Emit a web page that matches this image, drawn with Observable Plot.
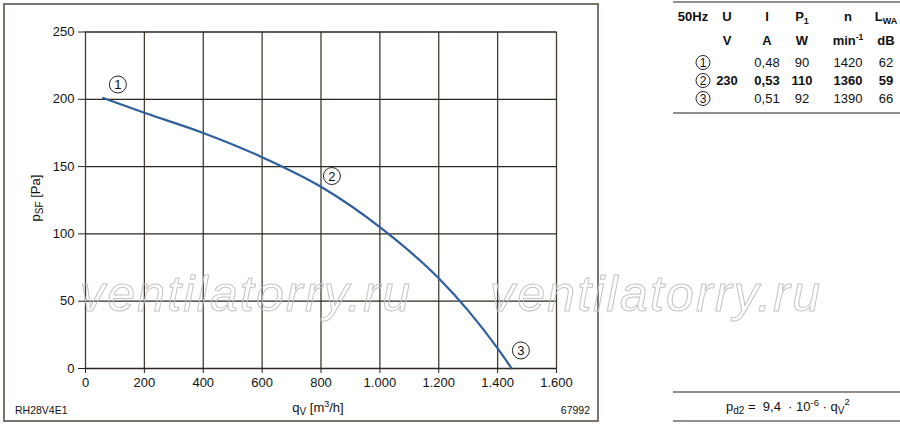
<!DOCTYPE html>
<html>
<head>
<meta charset="utf-8">
<script src="https://cdn.jsdelivr.net/npm/d3@7"></script>
<script src="https://cdn.jsdelivr.net/npm/@observablehq/plot@0.6"></script>
<style>
  body { margin: 0; background: #fff; }
  #wrap { position: relative; width: 900px; height: 426px; font-family: "Liberation Sans", Arial, sans-serif; }
  #wrap > * { position: absolute; left: 0; top: 0; }
  #frame { left: 3px; top: 3px; width: 592px; height: 415px; border: 2px solid #7b756d; }
</style>
</head>
<body>
<div id="wrap">
  <div id="frame"></div>
</div>
<script>
// ---- data ----
const qv  = [60, 200, 400, 600, 800, 1000, 1200, 1300, 1400, 1448];
const psf = [201, 190, 175, 157, 135, 105, 67, 43, 15, 0];
const xTicks = [0, 200, 400, 600, 800, 1000, 1200, 1400, 1600];
const xTickLabels = ["0", "200", "400", "600", "800", "1.000", "1.200", "1.400", "1.600"];
const yTicks = [0, 50, 100, 150, 200, 250];
const markerIds = ["1", "2", "3"];
const markerQ = [110, 837, 1479];
const markerP = [211, 143, 13.4];

const tableHeader = ["50Hz", "U", "I", "P", "n", "L"];
const tableUnits = ["", "V", "A", "W", "min", "dB"];
const tableRows = [
  ["1", "", "0,48", "90", "1420", "62"],
  ["2", "230", "0,53", "110", "1360", "59"],
  ["3", "", "0,51", "92", "1390", "66"]
];
const boldRow = 1;

const curve = qv.map((q, i) => ({q, p: psf[i]}));
const markers = markerIds.map((id, i) => ({id, q: markerQ[i], p: markerP[i]}));

const gridColor = "#2e271d";
const chart = Plot.plot({
  width: 600,
  height: 426,
  marginLeft: 85,
  marginRight: 44,
  marginTop: 31.5,
  marginBottom: 58,
  style: {fontFamily: "Liberation Sans, Arial, sans-serif", fontSize: "13px", background: "transparent", color: "#111"},
  x: {domain: [0, 1600]},
  y: {domain: [0, 250]},
  marks: [
    Plot.gridX(xTicks, {stroke: gridColor, strokeOpacity: 0.9, strokeWidth: 1.3}),
    Plot.gridY(yTicks, {stroke: gridColor, strokeOpacity: 1, strokeWidth: 1.3}),
    Plot.axisX(xTicks, {tickFormat: d => xTickLabels[xTicks.indexOf(d)], tickSize: 5, tickPadding: 4, fontSize: 13, label: null, stroke: "#222"}),
    Plot.axisY(yTicks, {tickSize: 7, tickPadding: 4, fontSize: 13, label: null, stroke: "#222"}),
    Plot.line(curve, {x: "q", y: "p", stroke: "#2f5e9d", strokeWidth: 2.2, curve: "monotone-x"}),
    Plot.dot(markers, {x: "q", y: "p", r: 8.5, stroke: "#222", fill: "white", strokeWidth: 1}),
    Plot.text(markers, {x: "q", y: "p", text: "id", fontSize: 13, fill: "#111", dy: 0.5})
  ]
});
document.getElementById("wrap").appendChild(chart);

// ---- overlay texts ----
const ov = d3.select("#wrap").append("svg")
  .attr("width", 900).attr("height", 426)
  .style("font-family", "Liberation Sans, Arial, sans-serif")
  .style("pointer-events", "none");

// y label
const yl = ov.append("text").attr("transform", "translate(40,198) rotate(-90)")
  .attr("text-anchor", "middle").attr("font-size", 13).attr("fill", "#111");
yl.append("tspan").text("p");
yl.append("tspan").attr("font-size", 10).attr("dy", 3).text("SF");
yl.append("tspan").attr("dy", -3).text(" [Pa]");

// x label
const xl = ov.append("text").attr("x", 318).attr("y", 412)
  .attr("text-anchor", "middle").attr("font-size", 13).attr("fill", "#111");
xl.append("tspan").text("q");
xl.append("tspan").attr("font-size", 10).attr("dy", 3).text("V");
xl.append("tspan").attr("dy", -3).text(" [m");
xl.append("tspan").attr("font-size", 9).attr("dy", -5).text("3");
xl.append("tspan").attr("dy", 5).text("/h]");

ov.append("text").attr("x", 15).attr("y", 414).attr("font-size", 10.5).attr("fill", "#111").text("RH28V4E1");
ov.append("text").attr("x", 590).attr("y", 414).attr("text-anchor", "end").attr("font-size", 10.5).attr("fill", "#111").text("67992");

// ---- table ----
const colX = [693, 727, 767, 802, 848, 886];
const lineCol = "#6f6a64";
ov.append("line").attr("x1", 673).attr("x2", 900).attr("y1", 2).attr("y2", 2).attr("stroke", lineCol).attr("stroke-width", 1.5);
ov.append("line").attr("x1", 673).attr("x2", 900).attr("y1", 113).attr("y2", 113).attr("stroke", lineCol).attr("stroke-width", 1.5);

tableHeader.forEach((h, i) => {
  const t = ov.append("text").attr("x", colX[i]).attr("y", 21).attr("text-anchor", "middle")
    .attr("font-size", 13).attr("font-weight", "bold").attr("fill", "#111");
  t.append("tspan").text(h);
  if (h === "P") t.append("tspan").attr("font-size", 9).attr("dy", 3).text("1");
  if (h === "L") t.append("tspan").attr("font-size", 9).attr("dy", 3).text("WA");
});
tableUnits.forEach((u, i) => {
  if (!u) return;
  const t = ov.append("text").attr("x", colX[i]).attr("y", 45).attr("text-anchor", "middle")
    .attr("font-size", 13).attr("font-weight", "bold").attr("fill", "#111");
  t.append("tspan").text(u);
  if (u === "min") t.append("tspan").attr("font-size", 8.5).attr("dy", -5).text("-1");
});
tableRows.forEach((row, r) => {
  const y = 67 + r * 18;
  row.forEach((v, i) => {
    if (!v) return;
    if (i === 0) {
      ov.append("circle").attr("cx", 703).attr("cy", y - 4.5).attr("r", 7)
        .attr("fill", "none").attr("stroke", "#222").attr("stroke-width", 1);
      ov.append("text").attr("x", 703).attr("y", y).attr("text-anchor", "middle")
        .attr("font-size", 12).attr("fill", "#111").text(v);
      return;
    }
    ov.append("text").attr("x", colX[i]).attr("y", y).attr("text-anchor", "middle")
      .attr("font-size", 13).attr("font-weight", r === boldRow ? "bold" : "normal").attr("fill", "#111").text(v);
  });
});

// ---- formula ----
ov.append("line").attr("x1", 673).attr("x2", 900).attr("y1", 392).attr("y2", 392).attr("stroke", lineCol).attr("stroke-width", 1.5);
ov.append("line").attr("x1", 673).attr("x2", 900).attr("y1", 421).attr("y2", 421).attr("stroke", lineCol).attr("stroke-width", 1.5);
const f = ov.append("text").attr("x", 726).attr("y", 411).attr("font-size", 13).attr("fill", "#111");
f.append("tspan").text("p");
f.append("tspan").attr("font-size", 10).attr("dy", 3).text("d2");
f.append("tspan").attr("dy", -3).text("\u00a0=\u00a0\u00a09,4\u00a0\u00a0\u00b7\u00a010");
f.append("tspan").attr("font-size", 9.5).attr("dy", -5).text("-6");
f.append("tspan").attr("dy", 5).text("\u00a0\u00b7\u00a0q");
f.append("tspan").attr("font-size", 10).attr("dy", 3).text("V");
f.append("tspan").attr("font-size", 9.5).attr("dy", -9).text("2");

// ---- watermark ----
[80, 490].forEach(x0 => {
  ov.append("text").attr("x", x0).attr("y", 311).attr("font-size", 50).attr("font-style", "italic")
    .attr("textLength", 330).attr("lengthAdjust", "spacing")
    .attr("fill", "none").attr("stroke", "#c4c4c4").attr("stroke-width", 1).text("ventilatorry.ru");
});
</script>
</body>
</html>
